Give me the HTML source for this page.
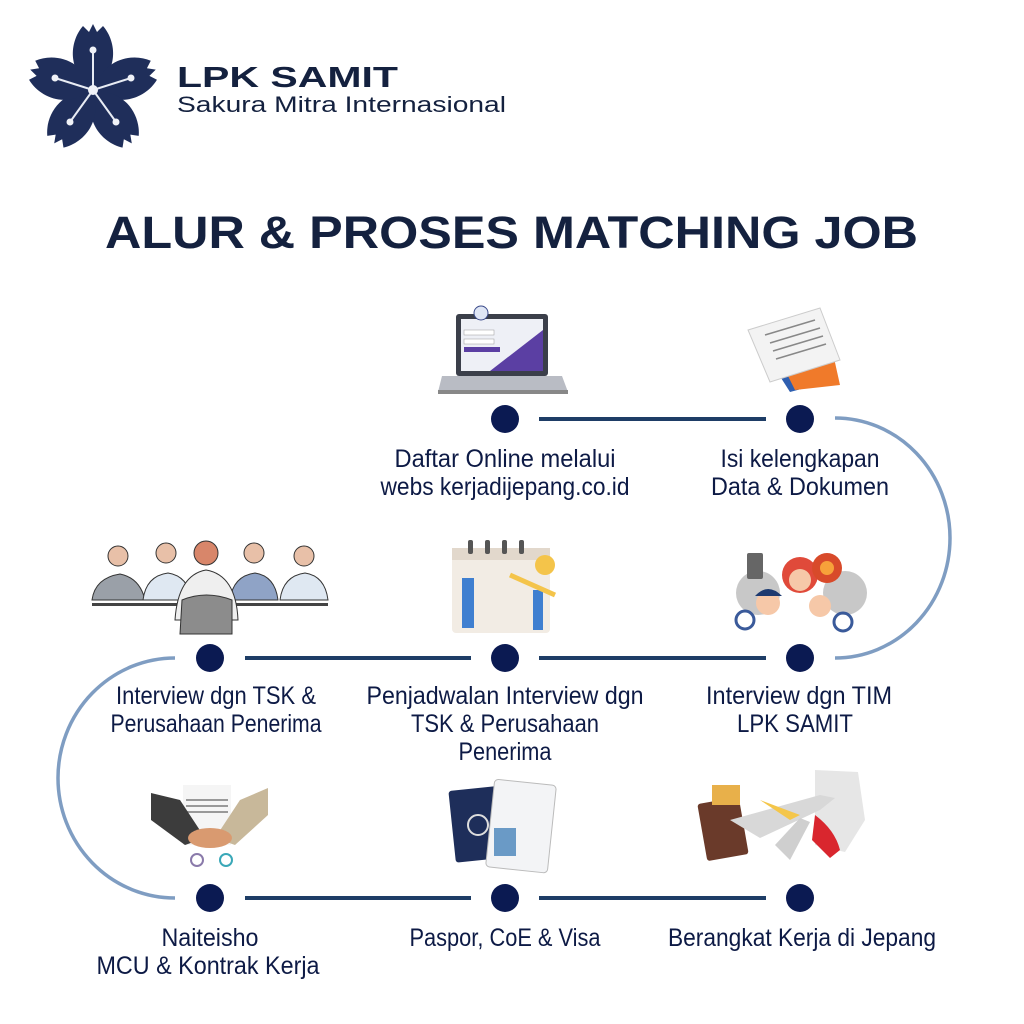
<!DOCTYPE html>
<html><head><meta charset="utf-8"><style>
html,body{margin:0;padding:0;background:#fff;}
svg{display:block}
.t{font-family:"Liberation Sans Narrow","Liberation Sans",sans-serif;font-size:25px;fill:#0d1a45;text-anchor:middle}
</style></head><body>
<svg width="1024" height="1024" viewBox="0 0 1024 1024" xmlns="http://www.w3.org/2000/svg">
<rect width="1024" height="1024" fill="#fff"/>
<!-- logo -->
<g transform="translate(93,90)">
 <g fill="#1f2e5a">
  <path id="pt" d="M0,-2 C-26,-18 -24,-48 -10,-64 L-4,-58 L0,-66 L4,-58 L10,-64 C24,-48 26,-18 0,-2Z"/>
  <use href="#pt" transform="rotate(72)"/>
  <use href="#pt" transform="rotate(144)"/>
  <use href="#pt" transform="rotate(216)"/>
  <use href="#pt" transform="rotate(288)"/>
 </g>
 <g stroke="#e8ecf4" stroke-width="2">
  <line x1="0" y1="0" x2="0" y2="-40"/><line x1="0" y1="0" x2="38" y2="-12"/><line x1="0" y1="0" x2="-38" y2="-12"/><line x1="0" y1="0" x2="23" y2="32"/><line x1="0" y1="0" x2="-23" y2="32"/>
 </g>
 <g fill="#f0f2f8"><circle r="5"/><circle cx="0" cy="-40" r="3.5"/><circle cx="38" cy="-12" r="3.5"/><circle cx="-38" cy="-12" r="3.5"/><circle cx="23" cy="32" r="3.5"/><circle cx="-23" cy="32" r="3.5"/></g>
</g>
<text x="177" y="87" font-family="Liberation Sans,sans-serif" font-weight="700" font-size="29" fill="#14213f" textLength="221" lengthAdjust="spacingAndGlyphs">LPK SAMIT</text>
<text x="177" y="112" font-family="Liberation Sans,sans-serif" font-size="22" fill="#14213f" textLength="329" lengthAdjust="spacingAndGlyphs">Sakura Mitra Internasional</text>
<!-- title -->
<text x="105" y="248" font-family="Liberation Sans,sans-serif" font-weight="700" font-size="45" fill="#14213f" textLength="813" lengthAdjust="spacingAndGlyphs">ALUR &amp; PROSES MATCHING JOB</text>

<!-- connectors -->
<g stroke="#1e3d66" stroke-width="4">
 <line x1="539" y1="419" x2="766" y2="419"/>
 <line x1="245" y1="658" x2="471" y2="658"/>
 <line x1="539" y1="658" x2="766" y2="658"/>
 <line x1="245" y1="898" x2="471" y2="898"/>
 <line x1="539" y1="898" x2="766" y2="898"/>
</g>
<path d="M835,418 A115,120 0 0 1 835,658" fill="none" stroke="#7f9dc2" stroke-width="3.5"/>
<path d="M175,658 A117,120 0 0 0 175,898" fill="none" stroke="#7f9dc2" stroke-width="3.5"/>
<g fill="#0b1a52">
 <circle cx="505" cy="419" r="14"/><circle cx="800" cy="419" r="14"/>
 <circle cx="210" cy="658" r="14"/><circle cx="505" cy="658" r="14"/><circle cx="800" cy="658" r="14"/>
 <circle cx="210" cy="898" r="14"/><circle cx="505" cy="898" r="14"/><circle cx="800" cy="898" r="14"/>
</g>

<!-- labels -->
<g class="t" lengthAdjust="spacingAndGlyphs">
<text class="t" x="505" y="467" textLength="221" lengthAdjust="spacingAndGlyphs">Daftar Online melalui</text>
<text class="t" x="505" y="495" textLength="249" lengthAdjust="spacingAndGlyphs">webs kerjadijepang.co.id</text>
<text class="t" x="800" y="467" textLength="159" lengthAdjust="spacingAndGlyphs">Isi kelengkapan</text>
<text class="t" x="800" y="495" textLength="178" lengthAdjust="spacingAndGlyphs">Data &amp; Dokumen</text>
<text class="t" x="216" y="704" textLength="200" lengthAdjust="spacingAndGlyphs">Interview dgn TSK &amp;</text>
<text class="t" x="216" y="732" textLength="211" lengthAdjust="spacingAndGlyphs">Perusahaan Penerima</text>
<text class="t" x="505" y="704" textLength="277" lengthAdjust="spacingAndGlyphs">Penjadwalan Interview dgn</text>
<text class="t" x="505" y="732" textLength="188" lengthAdjust="spacingAndGlyphs">TSK &amp; Perusahaan</text>
<text class="t" x="505" y="760" textLength="93" lengthAdjust="spacingAndGlyphs">Penerima</text>
<text class="t" x="799" y="704" textLength="186" lengthAdjust="spacingAndGlyphs">Interview dgn TIM</text>
<text class="t" x="795" y="732" textLength="116" lengthAdjust="spacingAndGlyphs">LPK SAMIT</text>
<text class="t" x="210" y="946" textLength="97" lengthAdjust="spacingAndGlyphs">Naiteisho</text>
<text class="t" x="208" y="974" textLength="223" lengthAdjust="spacingAndGlyphs">MCU &amp; Kontrak Kerja</text>
<text class="t" x="505" y="946" textLength="191" lengthAdjust="spacingAndGlyphs">Paspor, CoE &amp; Visa</text>
<text class="t" x="802" y="946" textLength="268" lengthAdjust="spacingAndGlyphs">Berangkat Kerja di Jepang</text>
</g>

<!-- illustrations -->
<g>
 <rect x="456" y="314" width="92" height="62" rx="3" fill="#3b3f4a"/>
 <rect x="461" y="319" width="82" height="52" fill="#eef0f6"/>
 <path d="M490,371 L543,330 L543,371Z" fill="#5b3fa3"/>
 <rect x="464" y="330" width="30" height="5" fill="#fff" stroke="#999" stroke-width=".5"/>
 <rect x="464" y="339" width="30" height="5" fill="#fff" stroke="#999" stroke-width=".5"/>
 <rect x="464" y="347" width="36" height="5" fill="#5b3fa3"/>
 <circle cx="481" cy="313" r="7" fill="#dfe6f5" stroke="#3a4a8a"/>
 <path d="M442,376 L562,376 L568,392 L438,392Z" fill="#b9bcc4"/>
 <rect x="438" y="390" width="130" height="4" fill="#888"/>
</g>
<g>
 <path d="M760,345 L815,330 L835,380 L790,392Z" fill="#2f5fb0"/>
 <path d="M775,350 L830,340 L840,385 L795,390Z" fill="#f07a2a"/>
 <path d="M748,330 L820,308 L840,360 L770,382Z" fill="#f3f3f3" stroke="#ccc"/>
 <g stroke="#888" stroke-width="1.5"><line x1="765" y1="335" x2="815" y2="320"/><line x1="770" y1="343" x2="820" y2="328"/><line x1="773" y1="351" x2="823" y2="336"/><line x1="776" y1="359" x2="826" y2="344"/></g>
</g>
<g>
 <rect x="92" y="603" width="236" height="3" fill="#444"/>
 <path d="M92,600 Q95,578 120,574 Q140,578 145,600Z" fill="#9aa0a8" stroke="#333"/>
 <g fill="#dfe8f2" stroke="#333"><path d="M143,600 Q146,576 168,573 Q188,576 192,600Z"/><path d="M280,600 Q283,576 305,573 Q325,576 328,600Z"/></g>
 <path d="M230,600 Q233,576 255,573 Q275,576 278,600Z" fill="#8fa3c6" stroke="#333"/>
 <g fill="#e8c0a8" stroke="#333"><circle cx="118" cy="556" r="10"/><circle cx="166" cy="553" r="10"/><circle cx="254" cy="553" r="10"/><circle cx="304" cy="556" r="10"/></g>
 <circle cx="206" cy="553" r="12" fill="#d8866a" stroke="#333"/>
 <path d="M175,620 Q178,575 206,570 Q236,575 238,620Z" fill="#efefef" stroke="#333"/>
 <path d="M180,634 L182,600 Q206,590 232,600 L232,634Z" fill="#8c8c8c" stroke="#333"/>
</g>
<g>
 <rect x="452" y="548" width="98" height="85" rx="4" fill="#f2ece4"/>
 <rect x="452" y="548" width="98" height="12" fill="#e2d8cc"/>
 <g fill="#555"><rect x="468" y="540" width="5" height="14" rx="2"/><rect x="485" y="540" width="5" height="14" rx="2"/><rect x="502" y="540" width="5" height="14" rx="2"/><rect x="519" y="540" width="5" height="14" rx="2"/></g>
 <circle cx="545" cy="565" r="10" fill="#f4c44a"/>
 <rect x="462" y="578" width="12" height="50" fill="#3f7fd0"/>
 <rect x="533" y="590" width="10" height="40" fill="#3f7fd0"/>
 <line x1="510" y1="575" x2="555" y2="595" stroke="#f4c44a" stroke-width="5"/>
</g>
<g>
 <circle cx="758" cy="593" r="22" fill="#c8c8c8"/><circle cx="845" cy="593" r="22" fill="#c8c8c8"/>
 <circle cx="800" cy="575" r="18" fill="#e04a3a"/><circle cx="800" cy="580" r="11" fill="#f6c8a8"/>
 <circle cx="768" cy="603" r="12" fill="#f6c8a8"/><path d="M755,596 Q768,582 782,596Z" fill="#1d3a70"/>
 <circle cx="820" cy="606" r="11" fill="#f6c8a8"/>
 <circle cx="827" cy="568" r="15" fill="#d84a2a"/><circle cx="827" cy="568" r="7" fill="#f7a13a"/>
 <rect x="747" y="553" width="16" height="26" rx="2" fill="#666"/>
 <circle cx="745" cy="620" r="9" fill="none" stroke="#3a5a9a" stroke-width="3"/><circle cx="843" cy="622" r="9" fill="none" stroke="#3a5a9a" stroke-width="3"/>
</g>
<g>
 <rect x="183" y="785" width="48" height="60" fill="#f5f5f5"/>
 <g stroke="#999" stroke-width="2"><line x1="186" y1="800" x2="228" y2="800"/><line x1="186" y1="806" x2="228" y2="806"/><line x1="186" y1="812" x2="228" y2="812"/></g>
 <path d="M151,793 L151,820 L185,845 L205,838 L180,800Z" fill="#3c3c3c"/>
 <path d="M268,788 L268,815 L235,845 L215,838 L240,800Z" fill="#c8b89a"/>
 <ellipse cx="210" cy="838" rx="22" ry="10" fill="#d99a70"/>
 <circle cx="197" cy="860" r="6" fill="none" stroke="#8a7aaa" stroke-width="2"/><circle cx="226" cy="860" r="6" fill="none" stroke="#3aa8b8" stroke-width="2"/>
</g>
<g>
 <rect x="452" y="788" width="56" height="72" rx="3" fill="#1e2e5a" transform="rotate(-6 480 824)"/>
 <circle cx="478" cy="825" r="10" fill="none" stroke="#ddd" stroke-width="2"/>
 <rect x="490" y="782" width="62" height="88" rx="4" fill="#f3f4f6" stroke="#bbb" transform="rotate(6 520 826)"/>
 <rect x="494" y="828" width="22" height="28" fill="#6a9ac6"/>
</g>
<g>
 <path d="M815,770 L858,772 L865,820 L845,852 L815,845Z" fill="#e6e6e6"/>
 <path d="M815,815 Q835,830 840,850 L830,858 L812,840Z" fill="#d9262e"/>
 <rect x="702" y="800" width="42" height="58" rx="3" fill="#6a3a2a" transform="rotate(-10 723 829)"/>
 <rect x="712" y="785" width="28" height="20" fill="#e8b04a"/>
 <path d="M730,820 L820,795 L835,798 L820,810 L760,838 Z" fill="#d8d8d8"/>
 <path d="M760,800 L800,815 L790,820 Z" fill="#f4c64a"/>
 <path d="M775,845 L800,818 L810,822 L790,860Z" fill="#cfcfcf"/>
</g>
</svg>
</body></html>
